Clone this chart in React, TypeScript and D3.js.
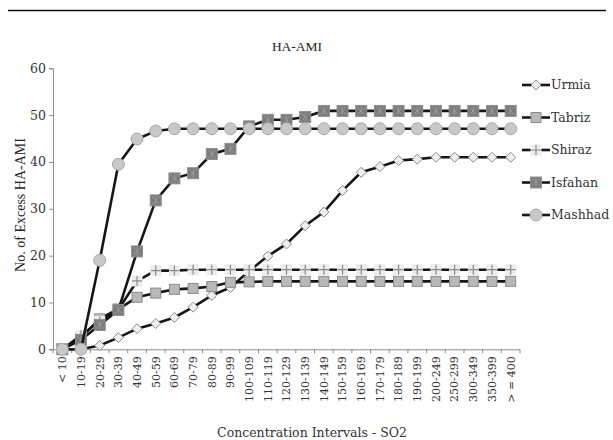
import React, { useEffect, useRef } from "react";
import * as d3 from "d3";

const categories = [
  "< 10", "10-19", "20-29", "30-39", "40-49", "50-59", "60-69", "70-79", "80-89", "90-99",
  "100-109", "110-119", "120-129", "130-139", "140-149", "150-159", "160-169", "170-179",
  "180-189", "190-199", "200-249", "250-299", "300-349", "350-399", "> = 400",
];

const urmia = [0, 0, 0.8, 2.5, 4.4, 5.5, 6.8, 9.0, 11.5, 13.2, 16.7, 19.9, 22.5, 26.4, 29.3, 33.9, 37.8, 39.0, 40.3, 40.6, 41, 41, 41, 41, 41];
const tabriz = [0, 2.5, 6.5, 8.6, 11.1, 12.0, 12.8, 13.0, 13.4, 14.3, 14.4, 14.5, 14.5, 14.5, 14.5, 14.5, 14.5, 14.5, 14.5, 14.5, 14.5, 14.5, 14.5, 14.5, 14.5];
const shiraz = [0, 3.0, 6.0, 8.5, 14.6, 16.8, 16.8, 17, 17, 17, 17, 17, 17, 17, 17, 17, 17, 17, 17, 17, 17, 17, 17, 17, 17];
const isfahan = [0, 2.0, 5.2, 8.4, 20.9, 31.8, 36.5, 37.6, 41.7, 42.8, 47.6, 49.0, 49.0, 49.6, 50.9, 50.9, 50.9, 50.9, 50.9, 50.9, 50.9, 50.9, 50.9, 50.9, 50.9];
const mashhad = [0, 0, 19.0, 39.5, 44.9, 46.6, 47.1, 47.1, 47.1, 47.1, 47.1, 47.1, 47.1, 47.1, 47.1, 47.1, 47.1, 47.1, 47.1, 47.1, 47.1, 47.1, 47.1, 47.1, 47.1];

const seriesNames = ["Urmia", "Tabriz", "Shiraz", "Isfahan", "Mashhad"];
const seriesValues = [urmia, tabriz, shiraz, isfahan, mashhad];
const yTicks = [0, 10, 20, 30, 40, 50, 60];

const W = 613;
const H = 440;

// draw a marker of given series type centred at (x, y)
function drawMarker(g: any, kind: string, x: number, y: number) {
  const m = g.append("g").attr("transform", `translate(${x},${y})`);
  if (kind === "Urmia") {
    m.append("path")
      .attr("d", "M0,-5L5,0L0,5L-5,0Z")
      .attr("fill", "#eeeeee")
      .attr("stroke", "#8a8a8a")
      .attr("stroke-width", 1);
  } else if (kind === "Tabriz") {
    m.append("rect")
      .attr("x", -5).attr("y", -5).attr("width", 10).attr("height", 10)
      .attr("fill", "#b8b8b8")
      .attr("stroke", "#8c8c8c")
      .attr("stroke-width", 1);
  } else if (kind === "Shiraz") {
    m.append("rect")
      .attr("x", -5.5).attr("y", -5.5).attr("width", 11).attr("height", 11)
      .attr("fill", "#ececec");
    m.append("path")
      .attr("d", "M-5,0H5M0,-5V5")
      .attr("stroke", "#8a8a8a")
      .attr("stroke-width", 1.2);
  } else if (kind === "Isfahan") {
    m.append("rect")
      .attr("x", -5.5).attr("y", -5.5).attr("width", 11).attr("height", 11)
      .attr("fill", "#7a7a7a")
      .attr("stroke", "#909090")
      .attr("stroke-width", 1);
    m.append("path")
      .attr("d", "M-4,-4L4,4M4,-4L-4,4M0,-4.5V4.5")
      .attr("stroke", "#a0a0a0")
      .attr("stroke-width", 0.8);
  } else {
    m.append("circle")
      .attr("r", 6)
      .attr("fill", "#c8c8c8")
      .attr("stroke", "#a8a8a8")
      .attr("stroke-width", 1);
  }
}

const App = () => {
  const svgRef = useRef<SVGSVGElement>(null);

  useEffect(() => {
    const svg = d3.select(svgRef.current);
    svg.selectAll("*").remove();

    const x = d3.scaleBand().domain(categories).range([53, 520]).padding(0);
    const y = d3.scaleLinear().domain([0, 60]).range([349.3, 68.3]);
    const cx = (c: string) => (x(c) as number) + x.bandwidth() / 2;

    // top rule
    svg.append("line")
      .attr("x1", 8).attr("x2", 606).attr("y1", 10.5).attr("y2", 10.5)
      .attr("stroke", "#111").attr("stroke-width", 1.5);

    // title
    svg.append("text")
      .attr("x", 297).attr("y", 51)
      .attr("text-anchor", "middle")
      .attr("font-family", "Liberation Serif")
      .attr("font-size", 13.5)
      .attr("fill", "#222")
      .text("HA-AMI");

    // y axis
    const yAxis = svg.append("g")
      .attr("transform", "translate(53,0)")
      .call(d3.axisLeft(y).tickValues(yTicks).tickSize(4).tickPadding(3).tickFormat(d3.format("d")));
    yAxis.select(".domain").attr("stroke", "#8c8c8c");
    yAxis.selectAll(".tick line").attr("stroke", "#8c8c8c");
    yAxis.selectAll("text")
      .attr("font-family", "DejaVu Serif")
      .attr("font-size", 12.5)
      .attr("fill", "#333");

    // x axis
    const xAxis = svg.append("g")
      .attr("transform", `translate(0,${y(0)})`)
      .call(d3.axisBottom(x).tickSize(0).tickPadding(6));
    xAxis.select(".domain").attr("stroke", "#8c8c8c").attr("d", `M53,0.5H520`);
    xAxis.selectAll("text")
      .attr("font-family", "DejaVu Serif")
      .attr("font-size", 11)
      .attr("fill", "#333")
      .attr("text-anchor", "end")
      .attr("x", 0).attr("y", 0)
      .attr("dy", "0.35em")
      .attr("transform", "translate(0,7) rotate(-90)");
    // category boundary ticks
    const bounds = categories.map((c) => x(c) as number).concat([520]);
    xAxis.selectAll(".bound")
      .data(bounds)
      .join("line")
      .attr("x1", (d) => d).attr("x2", (d) => d)
      .attr("y1", 0).attr("y2", 4)
      .attr("stroke", "#8c8c8c");

    // axis titles
    svg.append("text")
      .attr("transform", "translate(25,205) rotate(-90)")
      .attr("text-anchor", "middle")
      .attr("font-family", "Liberation Serif")
      .attr("font-size", 14)
      .attr("fill", "#222")
      .text("No. of Excess HA-AMI");

    svg.append("text")
      .attr("x", 312).attr("y", 437)
      .attr("text-anchor", "middle")
      .attr("font-family", "DejaVu Serif")
      .attr("font-size", 12.5)
      .attr("fill", "#333")
      .text("Concentration Intervals - SO2");

    const line = d3.line<number>()
      .x((_, i) => cx(categories[i]))
      .y((d) => y(d));

    seriesNames.forEach((name, si) => {
      const vals = seriesValues[si];
      const g = svg.append("g");
      g.append("path")
        .datum(vals)
        .attr("d", line)
        .attr("fill", "none")
        .attr("stroke", "#161616")
        .attr("stroke-width", 2.6);
      vals.forEach((v, i) => drawMarker(g, name, cx(categories[i]), y(v)));
    });

    // legend
    const legend = svg.append("g").attr("transform", "translate(522,85)");
    seriesNames.forEach((name, i) => {
      const row = legend.append("g").attr("transform", `translate(0,${i * 32.5})`);
      row.append("line")
        .attr("x1", 0).attr("x2", 28).attr("y1", 0).attr("y2", 0)
        .attr("stroke", "#161616").attr("stroke-width", 2.6);
      drawMarker(row, name, 14, 0);
      row.append("text")
        .attr("x", 29).attr("y", 0).attr("dy", "0.35em")
        .attr("font-family", "DejaVu Serif")
        .attr("font-size", 12.5)
        .attr("fill", "#333")
        .text(name);
    });
  }, []);

  return (
    <svg
      ref={svgRef}
      width={W}
      height={H}
      style={{ position: "absolute", left: 0, top: 0, background: "#fff" }}
    />
  );
};

export default App;
